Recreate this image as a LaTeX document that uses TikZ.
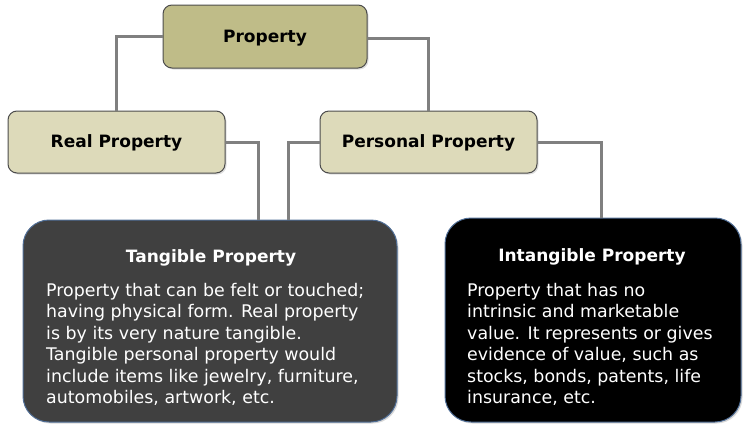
\documentclass[tikz,border=0pt]{standalone}
\usepackage{fontspec}
\setmainfont{DejaVu Sans}
\usetikzlibrary{shadows}
\definecolor{olivebox}{RGB}{191,188,136}
\definecolor{palebox}{RGB}{221,218,186}
\definecolor{darkbox}{RGB}{64,64,64}
\definecolor{edgeblue}{RGB}{80,110,150}
\definecolor{linkgray}{RGB}{128,128,128}

\begin{document}
\begin{tikzpicture}[x=1pt, y=-1pt,
	top/.style={draw=black!70, line width=1pt, rounded corners=9pt, text depth=1pt, font=\bfseries\fontsize{17}{19}\selectfont, drop shadow={shadow xshift=1.5pt, shadow yshift=-1.5pt, opacity=0.25}},
	info/.style={draw=edgeblue, line width=1pt, rounded corners=26pt, drop shadow={shadow xshift=1.5pt, shadow yshift=-1.5pt, opacity=0.3}},
	head/.style={text=white, font=\bfseries\fontsize{17}{19}\selectfont},
	body/.style={text=white, anchor=north west, align=left, inner sep=0pt, font=\fontsize{17.4}{21.5}\selectfont},
	link/.style={draw=linkgray, line width=3pt}]
		\useasboundingbox (0,0) rectangle (747,432);
		\node[top, fill=olivebox, minimum width=204pt, minimum height=63pt] (prop) at (265, 36.5) {Property};
		\node[top, fill=palebox, minimum width=217pt, minimum height=62pt] (real) at (116.5, 142) {Real Property};
		\node[top, fill=palebox, minimum width=217pt, minimum height=62pt] (pers) at (428.5, 142) {Personal Property};
		\node[info, fill=darkbox, minimum width=374pt, minimum height=202pt] (tang) at (210, 321) {};
		\node[info, fill=black, minimum width=296pt, minimum height=204pt] (intang) at (593, 320) {};
		\node[head] (tanghead) at (211, 258) {Tangible Property};
		\node[head] (intanghead) at (592, 257) {Intangible Property};
		\node[body] (tangtext) at (46, 283) {Property that can be felt or touched;\\having physical form. Real property\\is by its very nature tangible.\\Tangible personal property would\\include items like jewelry, furniture,\\automobiles, artwork, etc.};
		\node[body] (intangtext) at (467, 283) {Property that has no\\intrinsic and marketable\\value. It represents or gives\\evidence of value, such as\\stocks, bonds, patents, life\\insurance, etc.};
		\draw[link] (prop.west) -| (real.north);
		\draw[link] ([yshift=-2pt]prop.east) -| (pers.north);
		\draw[link] (real.east) -| ([xshift=48pt]tang.north);
		\draw[link] (pers.west) -| ([xshift=78pt]tang.north);
		\draw[link] (pers.east) -| ([xshift=8pt]intang.north);
	\end{tikzpicture}
\end{document}
